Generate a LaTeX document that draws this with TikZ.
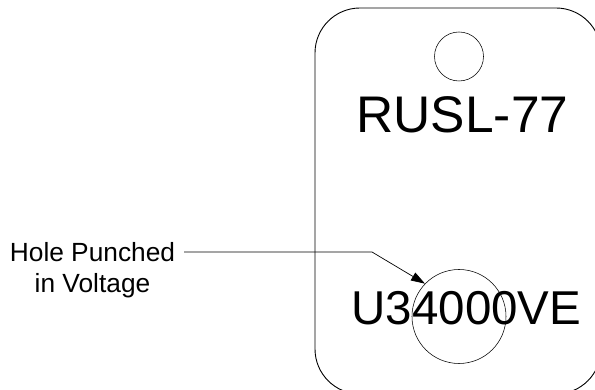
\documentclass[tikz,border=0pt]{standalone}
\usepackage{fontspec}
\setmainfont{Liberation Sans}
\usetikzlibrary{arrows.meta}
\begin{document}
\begin{tikzpicture}[x=1pt,y=1pt,
  tagline/.style={draw=black,line width=0.9pt},
  thin/.style={draw=black,line width=0.55pt},
  bigtext/.style={font=\fontsize{51.5}{60}\selectfont,inner sep=0pt,anchor=base},
  labeltext/.style={font=\fontsize{26.3}{31}\selectfont,inner sep=0pt,align=center}]
\useasboundingbox (0,0) rectangle (595,390);
\clip (0,0) rectangle (595,390);
% tag
\draw[tagline,rounded corners=45pt] (315,-4) rectangle (601,382);
% top hole
\node[thin,circle,minimum size=49pt,inner sep=0pt] (tophole) at (459,333.5) {};
% texts
\node[bigtext] (model) at (462.5,257) {RUSL-77};
\node[bigtext,font=\fontsize{47.5}{56}\selectfont] (volt) at (466.5,65) {U34000VE};
% punched hole
\node[thin,circle,minimum size=94pt,inner sep=0pt] (hole) at (459,73.5) {};
% label
\node[labeltext,anchor=north] (label) at (92.5,148) {Hole Punched\\in Voltage};
\coordinate (lstart) at (184,138);
\coordinate (bend) at (372,138);
\draw[thin,line width=0.7pt,-{Triangle[length=14pt,width=9pt]}] (lstart) -- (bend) -- (hole.136);
\end{tikzpicture}
\end{document}
